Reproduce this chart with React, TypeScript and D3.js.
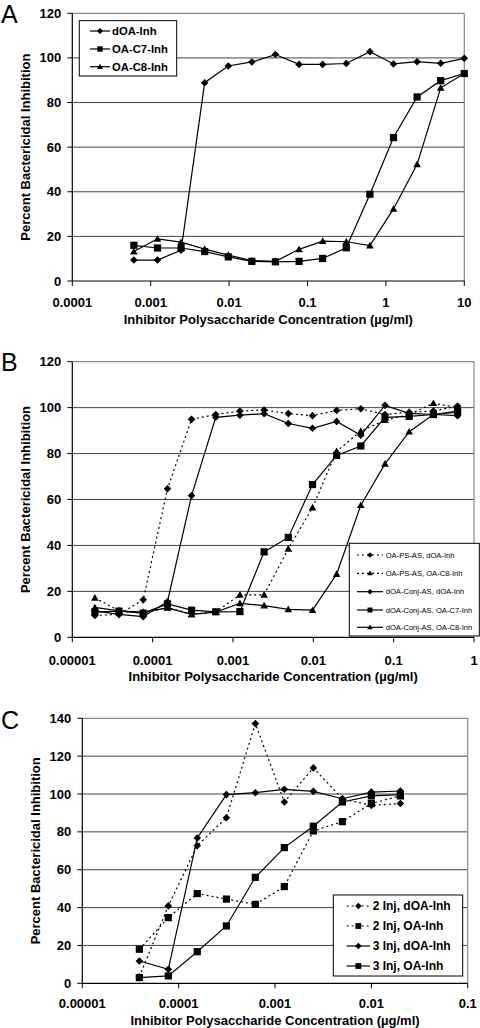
import React from "react";
import * as d3 from "d3";

// ---------- Panel A data ----------
const xA = [0.00061, 0.00122, 0.00244, 0.00488, 0.00977, 0.0195, 0.039, 0.078, 0.156, 0.3125, 0.625, 1.25, 2.5, 5, 10];
const aDOA = [9.4, 9.4, 13.8, 88.9, 96.4, 98.2, 101.5, 97.1, 97.1, 97.5, 102.8, 97.3, 98.3, 97.6, 99.8];
const aC7 = [16, 14.8, 14.8, 13.2, 10.8, 8.8, 8.6, 8.8, 10.1, 14.9, 38.9, 64.3, 82.5, 89.8, 93];
const aC8 = [13.2, 18.9, 17.4, 14.3, 11.6, 9.2, 8.8, 14.2, 17.9, 17.6, 15.9, 32.3, 52.3, 86.6, 93];
const xTicksA = ["0.0001", "0.001", "0.01", "0.1", "1", "10"];
const yTicksA = [0, 20, 40, 60, 80, 100, 120];

// ---------- Panel B data ----------
const xB = [0.0000191, 0.0000381, 0.0000763, 0.000153, 0.000305, 0.00061, 0.00122, 0.00244, 0.00488, 0.00977, 0.0195, 0.039, 0.078, 0.156, 0.3125, 0.625];
const bPsDOA = [9.5, 10, 16.3, 64.7, 94.9, 97, 98.5, 99, 97.4, 96.5, 98.8, 99.5, 97, 98, 98.5, 100.7];
const bPsC8 = [17.2, 11.5, 10.5, 13, 10, 11, 18.5, 18.5, 38.5, 56.5, 81, 89.8, 94.5, 97, 101.9, 100];
const bConjDOA = [11.5, 10, 9, 15.5, 61.7, 95.8, 96.7, 97.4, 93.1, 91, 94, 88, 101, 97.5, 97, 96.5];
const bConjC7 = [11, 11.4, 10.5, 14.5, 11.8, 11.1, 11.2, 37.2, 43.5, 66.5, 79.2, 83.3, 95.8, 96.2, 97, 98.5];
const bConjC8 = [13, 11.5, 11, 12.8, 10, 11, 14.8, 13.8, 12.2, 11.8, 27.5, 57.5, 75.5, 89.5, 97, 98];
const xTicksB = ["0.00001", "0.0001", "0.001", "0.01", "0.1", "1"];
const yTicksB = [0, 20, 40, 60, 80, 100, 120];

// ---------- Panel C data ----------
const xC = [0.0000391, 0.0000781, 0.000156, 0.000313, 0.000625, 0.00125, 0.0025, 0.005, 0.01, 0.02];
const c2DOA = [3.5, 40.9, 72.7, 87.5, 137.2, 95.8, 113.8, 97.5, 94, 95];
const c2OA = [18, 34.7, 47.4, 44.5, 41.7, 51.1, 80.5, 85.4, 95, 99];
const c3DOA = [11.8, 7.4, 76.8, 99.7, 100.7, 102.5, 101.4, 97.5, 101, 101.6];
const c3OA = [3, 3.9, 16.7, 30.3, 56, 71.7, 83, 95.8, 99, 99.7];
const xTicksC = ["0.00001", "0.0001", "0.001", "0.01", "0.1"];
const yTicksC = [0, 20, 40, 60, 80, 100, 120, 140];

const FONT = "'Liberation Sans', Arial, sans-serif";

type Shape = "diamond" | "square" | "triangle";
type Series = { name: string; values: number[]; shape: Shape; dotted: boolean };

function Marker({ shape, x, y, s }: { shape: Shape; x: number; y: number; s: number }) {
  if (shape === "diamond") {
    const h = s * 0.5;
    return <path d={`M${x},${y - h}L${x + h},${y}L${x},${y + h}L${x - h},${y}Z`} fill="#000" />;
  }
  if (shape === "square") {
    const h = s * 0.45;
    return <rect x={x - h} y={y - h} width={2 * h} height={2 * h} fill="#000" />;
  }
  const h = s * 0.5;
  return <path d={`M${x},${y - h}L${x + h},${y + h * 0.75}L${x - h},${y + h * 0.75}Z`} fill="#000" />;
}

type PanelProps = {
  letter: string;
  letterY: number;
  left: number; right: number; top: number; bottom: number;
  xs: number[];
  xTicks: string[];
  yTicks: number[];
  series: Series[];
  yTitleX: number;
  tickLabelDy: number;
  titleDy: number;
  legend: { x0: number; y0: number; x1: number; y1: number; rows: number[]; lineX0: number; lineX1: number; textX: number; fontSize: number; bold: boolean; mSize: number };
};

function Panel(p: PanelProps) {
  const xLo = +p.xTicks[0];
  const xHi = +p.xTicks[p.xTicks.length - 1];
  const x = d3.scaleLog().domain([xLo, xHi]).range([p.left, p.right]);
  const y = d3.scaleLinear().domain([0, p.yTicks[p.yTicks.length - 1]]).range([p.bottom, p.top]);
  const line = d3.line<[number, number]>().x((d) => x(d[0])).y((d) => y(d[1]));
  const cy = (p.top + p.bottom) / 2;
  const L = p.legend;
  return (
    <g>
      <text x={1} y={p.letterY} fontFamily={FONT} fontSize={25}>{p.letter}</text>
      {/* grid */}
      {p.yTicks.slice(1, -1).map((t) => (
        <line key={t} x1={p.left} x2={p.right} y1={y(t)} y2={y(t)} stroke="#444" strokeWidth={1} />
      ))}
      {/* border top/right */}
      <line x1={p.left} x2={p.right} y1={p.top} y2={p.top} stroke="#888" strokeWidth={1.2} />
      <line x1={p.right} x2={p.right} y1={p.top} y2={p.bottom} stroke="#888" strokeWidth={1.2} />
      {/* axes */}
      <line x1={p.left} x2={p.left} y1={p.top} y2={p.bottom} stroke="#000" strokeWidth={1.2} />
      <line x1={p.left} x2={p.right} y1={p.bottom} y2={p.bottom} stroke="#000" strokeWidth={1.2} />
      {p.yTicks.map((t) => (
        <g key={t}>
          <line x1={p.left - 5} x2={p.left} y1={y(t)} y2={y(t)} stroke="#000" />
          <text x={p.left - 11} y={y(t)} dy="0.35em" textAnchor="end" fontFamily={FONT} fontWeight="bold" fontSize={13}>{t}</text>
        </g>
      ))}
      {p.xTicks.map((t) => (
        <g key={t}>
          <line x1={x(+t)} x2={x(+t)} y1={p.bottom} y2={p.bottom + 5} stroke="#000" />
          <text x={x(+t)} y={p.bottom + p.tickLabelDy} dy="0.35em" textAnchor="middle" fontFamily={FONT} fontWeight="bold" fontSize={13}>{t}</text>
        </g>
      ))}
      <text x={(p.left + p.right) / 2} y={p.bottom + p.titleDy} dy="0.35em" textAnchor="middle" fontFamily={FONT} fontWeight="bold" fontSize={13}>
        Inhibitor Polysaccharide Concentration (µg/ml)
      </text>
      <text transform={`translate(${p.yTitleX},${cy}) rotate(-90)`} dy="0.35em" textAnchor="middle" fontFamily={FONT} fontWeight="bold" fontSize={13}>
        Percent Bactericidal Inhibition
      </text>
      {/* series */}
      {p.series.map((s, i) => (
        <path key={"l" + i} d={line(p.xs.map((v, j) => [v, s.values[j]]) as [number, number][]) || ""} fill="none" stroke="#000" strokeWidth={1.2} strokeDasharray={s.dotted ? "2,3" : undefined} />
      ))}
      {p.series.map((s, i) => (
        <g key={"m" + i}>
          {p.xs.map((v, j) => (
            <Marker key={j} shape={s.shape} x={x(v)} y={y(s.values[j])} s={s.shape === "square" ? 8 : 7.6} />
          ))}
        </g>
      ))}
      {/* legend */}
      <rect x={L.x0} y={L.y0} width={L.x1 - L.x0} height={L.y1 - L.y0} fill="#fff" stroke="#000" strokeWidth={1} />
      {p.series.map((s, i) => (
        <g key={"g" + i}>
          <line x1={L.lineX0} x2={L.lineX1} y1={L.rows[i]} y2={L.rows[i]} stroke="#000" strokeWidth={1.2} strokeDasharray={s.dotted ? "2,3" : undefined} />
          <Marker shape={s.shape} x={(L.lineX0 + L.lineX1) / 2} y={L.rows[i]} s={L.mSize} />
          <text x={L.textX} y={L.rows[i]} dy="0.35em" fontFamily={FONT} fontWeight={L.bold ? "bold" : "normal"} fontSize={L.fontSize}>{s.name}</text>
        </g>
      ))}
    </g>
  );
}

export default function App() {
  const seriesA: Series[] = [
    { name: "dOA-Inh", values: aDOA, shape: "diamond", dotted: false },
    { name: "OA-C7-Inh", values: aC7, shape: "square", dotted: false },
    { name: "OA-C8-Inh", values: aC8, shape: "triangle", dotted: false },
  ];
  const seriesB: Series[] = [
    { name: "OA-PS-AS, dOA-Inh", values: bPsDOA, shape: "diamond", dotted: true },
    { name: "OA-PS-AS, OA-C8-Inh", values: bPsC8, shape: "triangle", dotted: true },
    { name: "dOA-Conj-AS, dOA-Inh", values: bConjDOA, shape: "diamond", dotted: false },
    { name: "dOA-Conj-AS, OA-C7-Inh", values: bConjC7, shape: "square", dotted: false },
    { name: "dOA-Conj-AS, OA-C8-Inh", values: bConjC8, shape: "triangle", dotted: false },
  ];
  const seriesC: Series[] = [
    { name: "2 Inj, dOA-Inh", values: c2DOA, shape: "diamond", dotted: true },
    { name: "2 Inj, OA-Inh", values: c2OA, shape: "square", dotted: true },
    { name: "3 Inj, dOA-Inh", values: c3DOA, shape: "diamond", dotted: false },
    { name: "3 Inj, OA-Inh", values: c3OA, shape: "square", dotted: false },
  ];
  return (
    <svg width={480} height={1028} style={{ position: "absolute", left: 0, top: 0, background: "#fff" }}>
      <rect width={480} height={1028} fill="#fff" />
      <Panel
        letter="A" letterY={23}
        left={72.3} right={464.3} top={13.3} bottom={281}
        xs={xA} xTicks={xTicksA} yTicks={yTicksA} series={seriesA}
        yTitleX={25} tickLabelDy={21} titleDy={38}
        legend={{ x0: 79.3, y0: 20.7, x1: 176.7, y1: 76, rows: [31, 49, 66.7], lineX0: 90, lineX1: 110, textX: 112, fontSize: 11.3, bold: true, mSize: 6 }}
      />
      <Panel
        letter="B" letterY={371}
        left={72.3} right={474} top={361.7} bottom={637.3}
        xs={xB} xTicks={xTicksB} yTicks={yTicksB} series={seriesB}
        yTitleX={25} tickLabelDy={22.7} titleDy={39.5}
        legend={{ x0: 349.3, y0: 543.3, x1: 479.3, y1: 636, rows: [555, 573.3, 591.7, 610, 627.3], lineX0: 357, lineX1: 383, textX: 385.7, fontSize: 7.6, bold: false, mSize: 5.5 }}
      />
      <Panel
        letter="C" letterY={728.5}
        left={82.3} right={467.7} top={718.3} bottom={983.3}
        xs={xC} xTicks={xTicksC} yTicks={yTicksC} series={seriesC}
        yTitleX={35} tickLabelDy={20} titleDy={37.4}
        legend={{ x0: 333.3, y0: 895, x1: 462.7, y1: 976, rows: [906, 926, 946, 966], lineX0: 346.7, lineX1: 370, textX: 372.7, fontSize: 12, bold: true, mSize: 6.5 }}
      />
    </svg>
  );
}
